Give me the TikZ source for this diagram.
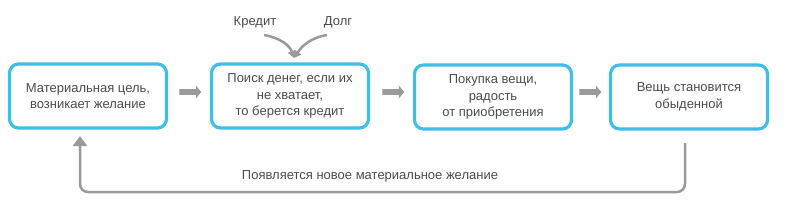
\documentclass[tikz,border=0pt]{standalone}
\usepackage{fontspec}
\setmainfont{Liberation Sans}
\usetikzlibrary{arrows.meta,shapes.arrows}
\definecolor{boxblue}{HTML}{3FBFE8}
\definecolor{txt}{HTML}{4A4A4A}
\definecolor{arr}{HTML}{9A9A9A}
\begin{document}
\begin{tikzpicture}[x=1pt,y=-1pt,
  stage/.style={draw=boxblue,line width=3.2pt,rounded corners=9pt,minimum width=157pt,minimum height=64pt,align=center,text=txt,font=\fontsize{13}{16.5}\selectfont},
  blockarrow/.style={single arrow,fill=arr,draw=none,minimum height=22pt,minimum width=13pt,single arrow head extend=2pt,inner sep=1.5pt,single arrow tip angle=100},
  lbl/.style={text=txt,font=\fontsize{13}{16}\selectfont},
  conn/.style={draw=arr,line width=2.5pt}]
\useasboundingbox (0,0) rectangle (790,222);
\node[stage] (b1) at (88,96) {Материальная цель,\\возникает желание};
\node[stage] (b2) at (290,96) {Поиск денег, если их\\не хватает,\\то берется кредит};
\node[stage] (b3) at (493,97) {Покупка вещи,\\радость\\от приобретения};
\node[stage] (b4) at (689,97) {Вещь становится\\обыденной};
\node[blockarrow] (a1) at (189,92) {};
\node[blockarrow] (a2) at (392,92) {};
\node[blockarrow] (a3) at (589,92) {};
\node[lbl] (kr) at (255,22) {Кредит};
\node[lbl] (dl) at (338,22) {Долг};
\coordinate (tip) at (294,58);
\draw[conn,-{Triangle[length=7pt,width=8pt]}] (264,35) .. controls (281,38) and (290,46) .. (tip);
\draw[conn,-{Triangle[length=7pt,width=8pt]}] (327,35) .. controls (310,38) and (302,46) .. (tip);
\coordinate (loopstart) at (685,143);
\coordinate (loopend) at (80,136);
\draw[conn,rounded corners=8pt,-{Triangle[length=10pt,width=14pt]}] (loopstart) |- (80,192) -- (loopend);
\node[lbl] (ln) at (370,176) {Появляется новое материальное желание};
\end{tikzpicture}
\end{document}
